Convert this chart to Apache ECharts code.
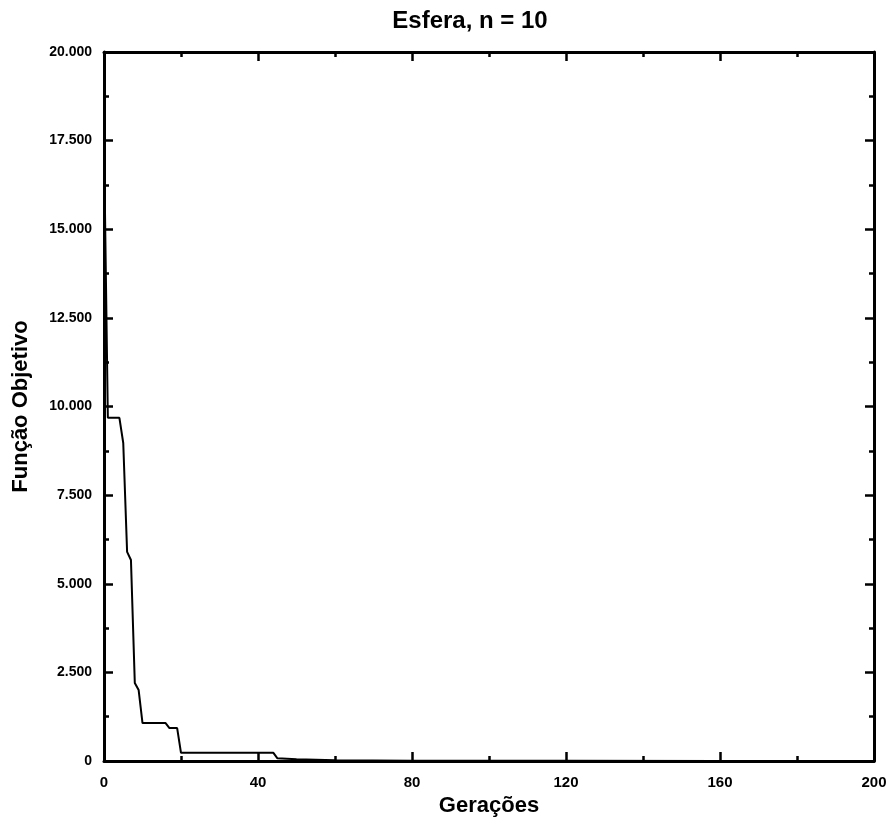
<!DOCTYPE html>
<html>
<head>
<meta charset="utf-8">
<script src="https://cdn.jsdelivr.net/npm/echarts@6/dist/echarts.min.js"></script>
<style>html,body{margin:0;padding:0;background:#fff}#c{width:890px;height:821px}</style>
</head>
<body>
<div id="c"></div>
<script>
// Data
var generations = [0, 1, 4, 5, 6, 7, 8, 9, 10, 16, 17, 19, 20, 44, 45, 50, 60, 80, 120, 160, 200];
var objective   = [17500, 9680, 9680, 8970, 5900, 5670, 2200, 2000, 1070, 1070, 930, 930, 230, 230, 80, 50, 20, 8, 4, 2, 1];
var xTicks = [0, 40, 80, 120, 160, 200];
var yTicks = [0, 2500, 5000, 7500, 10000, 12500, 15000, 17500, 20000];

var chart = echarts.init(document.getElementById('c'));
var font = '"Liberation Sans", Arial, sans-serif';
function fmt(v){ return String(Math.round(v)).replace(/\B(?=(\d{3})+(?!\d))/g, '.'); }

var axisLine = {show: true, onZero: false, lineStyle: {color: '#000', width: 3}};
var tick = {show: true, inside: true, length: 9, lineStyle: {color: '#000', width: 2.5}};
var minor = {show: true, splitNumber: 2, length: 5, lineStyle: {color: '#000', width: 2.5}};

chart.setOption({
  animation: false,
  backgroundColor: '#fff',
  title: {
    text: 'Esfera, n = 10',
    left: 465, top: 4, textAlign: 'center',
    textStyle: {fontFamily: font, fontSize: 24, fontWeight: 'bold', color: '#000'}
  },
  grid: {left: 104, right: 16, top: 52, bottom: 60, containLabel: false, outerBoundsMode: 'none'},
  xAxis: [{
    type: 'value', min: 0, max: 200, interval: 40,
    name: 'Gerações', nameLocation: 'middle', nameGap: 32,
    nameTextStyle: {fontFamily: font, fontSize: 22, fontWeight: 'bold', color: '#000'},
    axisLine: axisLine, axisTick: tick, minorTick: minor,
    splitLine: {show: false},
    axisLabel: {fontFamily: font, fontSize: 15, fontWeight: 'bold', color: '#000', margin: 14,
      formatter: function(v){ return xTicks.indexOf(v) >= 0 ? String(v) : ''; }}
  }, {
    type: 'value', position: 'top', min: 0, max: 200, interval: 40,
    axisLine: axisLine, axisTick: tick, minorTick: minor,
    splitLine: {show: false}, axisLabel: {show: false}
  }],
  yAxis: [{
    type: 'value', min: 0, max: 20000, interval: 2500,
    name: 'Função Objetivo', nameLocation: 'middle', nameGap: 72, nameRotate: 90,
    nameTextStyle: {fontFamily: font, fontSize: 22, fontWeight: 'bold', color: '#000'},
    axisLine: axisLine, axisTick: tick, minorTick: minor,
    splitLine: {show: false},
    axisLabel: {fontFamily: font, fontSize: 14, fontWeight: 'bold', color: '#000', margin: 12,
      formatter: function(v){ return yTicks.indexOf(v) >= 0 ? fmt(v) : ''; }}
  }, {
    type: 'value', position: 'right', min: 0, max: 20000, interval: 2500,
    axisLine: axisLine, axisTick: tick, minorTick: minor,
    splitLine: {show: false}, axisLabel: {show: false}
  }],
  series: [{
    type: 'line',
    data: generations.map(function(g, i){ return [g, objective[i]]; }),
    showSymbol: false, symbol: 'none',
    lineStyle: {color: '#000', width: 2},
    z: 1
  }]
});
</script>
</body>
</html>
